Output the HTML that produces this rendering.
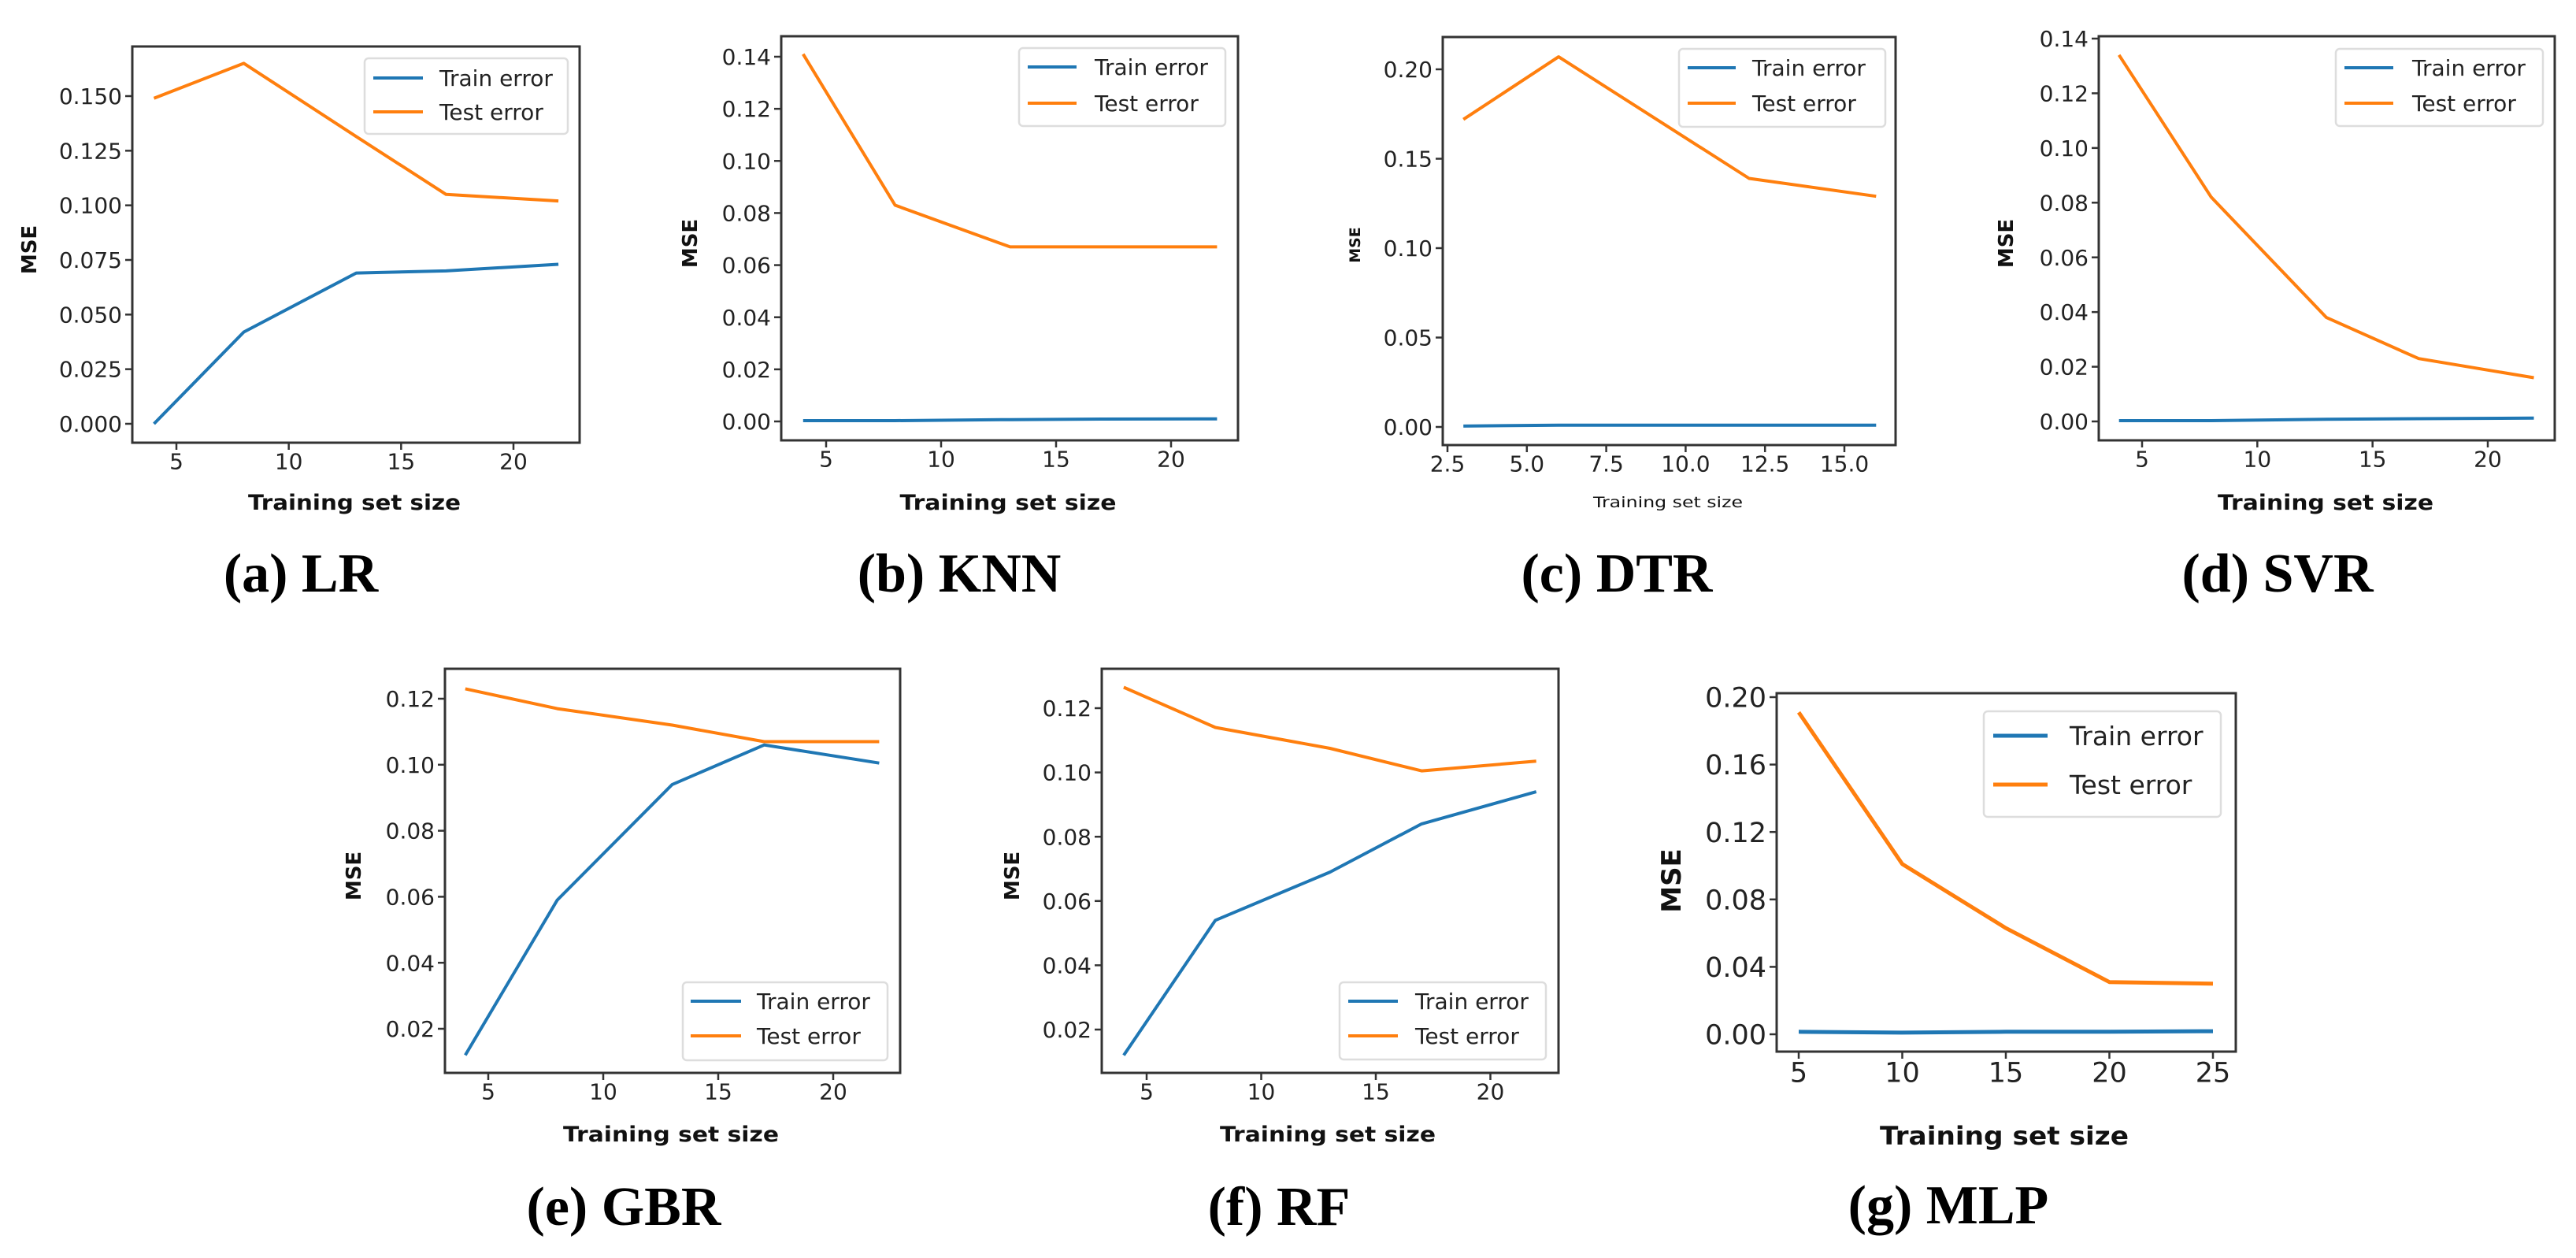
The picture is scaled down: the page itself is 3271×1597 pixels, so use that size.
<!DOCTYPE html>
<html><head><meta charset="utf-8"><style>
html,body{margin:0;padding:0;background:#fff;}
svg{display:block;}
</style></head><body>
<svg id="fig" width="3271" height="1597" viewBox="0 0 3271 1597" xmlns="http://www.w3.org/2000/svg"></svg>
<script>
// ---- data ----
const lrX = [4, 8, 13, 17, 22];
const lrTrain = [0.0, 0.042, 0.069, 0.070, 0.073];
const lrTest = [0.149, 0.165, 0.1315, 0.105, 0.102];
const lrYTicks = [0, 0.025, 0.05, 0.075, 0.1, 0.125, 0.15];
const lrYLabels = ["0.000","0.025","0.050","0.075","0.100","0.125","0.150"];
const lrXTicks = [5, 10, 15, 20];

const knnX = [4, 8, 13, 17, 22];
const knnTrain = [0.0003, 0.0003, 0.0007, 0.0009, 0.001];
const knnTest = [0.141, 0.083, 0.067, 0.067, 0.067];
const knnYTicks = [0, 0.02, 0.04, 0.06, 0.08, 0.10, 0.12, 0.14];
const knnYLabels = ["0.00","0.02","0.04","0.06","0.08","0.10","0.12","0.14"];
const knnXTicks = [5, 10, 15, 20];

const dtrX = [3, 6, 12, 16];
const dtrTrain = [0.0005, 0.001, 0.001, 0.001];
const dtrTest = [0.172, 0.207, 0.139, 0.129];
const dtrYTicks = [0, 0.05, 0.10, 0.15, 0.20];
const dtrYLabels = ["0.00","0.05","0.10","0.15","0.20"];
const dtrXTicks = [2.5, 5, 7.5, 10, 12.5, 15];
const dtrXLabels = ["2.5","5.0","7.5","10.0","12.5","15.0"];

const svrX = [4, 8, 13, 17, 22];
const svrTrain = [0.0003, 0.0003, 0.0008, 0.001, 0.0012];
const svrTest = [0.134, 0.082, 0.038, 0.023, 0.016];
const svrYTicks = [0, 0.02, 0.04, 0.06, 0.08, 0.10, 0.12, 0.14];
const svrYLabels = ["0.00","0.02","0.04","0.06","0.08","0.10","0.12","0.14"];
const svrXTicks = [5, 10, 15, 20];

const gbrX = [4, 8, 13, 17, 22];
const gbrTrain = [0.012, 0.059, 0.094, 0.106, 0.1005];
const gbrTest = [0.123, 0.117, 0.112, 0.107, 0.107];
const gbrYTicks = [0.02, 0.04, 0.06, 0.08, 0.10, 0.12];
const gbrYLabels = ["0.02","0.04","0.06","0.08","0.10","0.12"];
const gbrXTicks = [5, 10, 15, 20];

const rfX = [4, 8, 13, 17, 22];
const rfTrain = [0.012, 0.054, 0.069, 0.084, 0.094];
const rfTest = [0.1265, 0.114, 0.1075, 0.1005, 0.1035];
const rfYTicks = [0.02, 0.04, 0.06, 0.08, 0.10, 0.12];
const rfYLabels = ["0.02","0.04","0.06","0.08","0.10","0.12"];
const rfXTicks = [5, 10, 15, 20];

const mlpX = [5, 10, 15, 20, 25];
const mlpTrain = [0.0015, 0.001, 0.0015, 0.0015, 0.0018];
const mlpTest = [0.191, 0.101, 0.063, 0.031, 0.030];
const mlpYTicks = [0, 0.04, 0.08, 0.12, 0.16, 0.20];
const mlpYLabels = ["0.00","0.04","0.08","0.12","0.16","0.20"];
const mlpXTicks = [5, 10, 15, 20, 25];

const seriesNames = ["Train error", "Test error"];
const captions = ["(a) LR","(b) KNN","(c) DTR","(d) SVR","(e) GBR","(f) RF","(g) MLP"];

// ---- layout ----
const NS = "http://www.w3.org/2000/svg";
const svg = document.getElementById("fig");
function mk(tag, attrs, parent){
  const e = document.createElementNS(NS, tag);
  for (const k in attrs) e.setAttribute(k, attrs[k]);
  (parent || svg).appendChild(e);
  return e;
}
const BLUE = "#1f77b4", ORANGE = "#ff7f0e";
const FONT = "'DejaVu Sans', 'Liberation Sans', sans-serif";

function panel(id, cfg, xs, train, test, yTicks, yLabels, xTicks, xLabels){
  const g = mk("g", {});
  
  
  const L=cfg.box[0], T=cfg.box[1], R=cfg.box[2], B=cfg.box[3];
  const sx = v => cfg.xa[1] + (v - cfg.xa[0]) * (cfg.xb[1] - cfg.xa[1]) / (cfg.xb[0] - cfg.xa[0]);
  const sy = v => cfg.ya[1] + (v - cfg.ya[0]) * (cfg.yb[1] - cfg.ya[1]) / (cfg.yb[0] - cfg.ya[0]);
  // ticks
  yTicks.forEach((t,i)=>{
    const y = sy(t);
    const tk = mk("line",{x1:L-9,x2:L,y1:y,y2:y,stroke:"#333","stroke-width":2.5},g);
    
    
    const tx = mk("text",{x:L-13,y:y+cfg.tf*0.36,"text-anchor":"end","font-family":FONT,"font-size":cfg.tf,fill:"#222"},g);
    tx.textContent = yLabels[i];
    
    
  });
  xTicks.forEach((t,i)=>{
    const x = sx(t);
    const tk = mk("line",{x1:x,x2:x,y1:B,y2:B+9,stroke:"#333","stroke-width":2.5},g);
    
    
    const tx = mk("text",{x:x,y:B+12+cfg.tf*0.76,"text-anchor":"middle","font-family":FONT,"font-size":cfg.tf,fill:"#222"},g);
    tx.textContent = xLabels ? xLabels[i] : String(t);
    
    
  });
  // lines
  [[train,BLUE,'train'],[test,ORANGE,'test']].forEach(([vals,col,nm])=>{
    const pts = xs.map((x,i)=> sx(x).toFixed(1)+","+sy(vals[i]).toFixed(1)).join(" ");
    const pl = mk("polyline",{points:pts,fill:"none",stroke:col,"stroke-width":cfg.lw,"stroke-linejoin":"round"},g);
    
    
  });
  // frame
  const fr = mk("rect",{x:L,y:T,width:R-L,height:B-T,fill:"none",stroke:"#333","stroke-width":3},g);
  
  
  // legend
  const lg = cfg.leg;
  const lgG = mk("g",{},g);
  
  
  mk("rect",{x:lg.x,y:lg.y,width:lg.w,height:lg.h,rx:5,fill:"#fff",stroke:"#ddd","stroke-width":2.5},lgG);
  [[BLUE,seriesNames[0],lg.r1],[ORANGE,seriesNames[1],lg.r2]].forEach(([col,name,ry])=>{
    const ln = mk("line",{x1:lg.l1,x2:lg.l2,y1:ry,y2:ry,stroke:col,"stroke-width":cfg.lw},lgG);
    
    
    const t = mk("text",{x:lg.tx,y:ry+lg.fs*0.36,"font-family":FONT,"font-size":lg.fs,fill:"#222"},lgG);
    t.textContent = name;
    
    
  });
  // axis titles
  const xl = mk("text",{x:cfg.xl[0],y:cfg.xl[1],"text-anchor":"middle","font-family":FONT,"font-size":cfg.xl[2],"font-weight":cfg.xl[3]?"bold":"normal",fill:"#111",textLength:cfg.xl[4],lengthAdjust:"spacingAndGlyphs"},g);
  xl.textContent = "Training set size";
  
  
  const yl = mk("text",{x:0,y:0,"text-anchor":"middle","font-family":FONT,"font-size":cfg.yl[2],"font-weight":"bold",fill:"#111",transform:`translate(${cfg.yl[0]},${cfg.yl[1]}) rotate(-90)`},g);
  yl.textContent = "MSE";
  
  
  // caption
  const cp = mk("text",{x:cfg.cap[0],y:cfg.cap[1],"text-anchor":"middle","font-family":"'Liberation Serif', serif","font-size":70,"font-weight":"bold",fill:"#000"},g);
  cp.textContent = cfg.capText;
  
  
}

panel("lr",{box:[168,59,736,562],xa:[5,224],xb:[20,652],ya:[0,538],yb:[0.15,122],tf:28,lw:4,
  leg:{x:463,y:74,w:258,h:96,l1:474,l2:537,tx:558,r1:99,r2:142,fs:28},
  xl:[450,647,27,true,270],yl:[46,317,26],cap:[382,751],capText:captions[0]},
  lrX,lrTrain,lrTest,lrYTicks,lrYLabels,lrXTicks);
panel("knn",{box:[992,46,1572,559],xa:[5,1049],xb:[20,1487],ya:[0,535],yb:[0.14,72],tf:28,lw:4,
  leg:{x:1294,y:61,w:262,h:99,l1:1305,l2:1367,tx:1390,r1:85,r2:131,fs:28},
  xl:[1280,647,27,true,275],yl:[885,309,26],cap:[1218,751],capText:captions[1]},
  knnX,knnTrain,knnTest,knnYTicks,knnYLabels,knnXTicks);
panel("dtr",{box:[1832,47,2407,565],xa:[2.5,1838],xb:[15,2342],ya:[0,542],yb:[0.2,88],tf:28,lw:4,
  leg:{x:2132,y:62,w:262,h:99,l1:2143,l2:2204,tx:2225,r1:86,r2:131,fs:28},
  xl:[2118,644,19,false,190],yl:[1727,311,19],cap:[2053,751],capText:captions[2]},
  dtrX,dtrTrain,dtrTest,dtrYTicks,dtrYLabels,dtrXTicks,dtrXLabels);
panel("svr",{box:[2665,46,3244,559],xa:[5,2720],xb:[20,3159],ya:[0,535],yb:[0.14,49],tf:28,lw:4,
  leg:{x:2966,y:62,w:263,h:98,l1:2977,l2:3039,tx:3063,r1:86,r2:131,fs:28},
  xl:[2953,647,27,true,274],yl:[2556,309,26],cap:[2892,751],capText:captions[3]},
  svrX,svrTrain,svrTest,svrYTicks,svrYLabels,svrXTicks);
panel("gbr",{box:[565,849,1143,1362],xa:[5,620],xb:[20,1058],ya:[0.12,887],yb:[0.02,1306],tf:28,lw:4,
  leg:{x:867,y:1247,w:260,h:99,l1:877,l2:941,tx:961,r1:1271,r2:1315,fs:28},
  xl:[852,1449,27,true,274],yl:[458,1112,26],cap:[792,1555],capText:captions[4]},
  gbrX,gbrTrain,gbrTest,gbrYTicks,gbrYLabels,gbrXTicks);
panel("rf",{box:[1399,849,1979,1362],xa:[5,1456],xb:[15,1747],ya:[0.12,899],yb:[0.02,1307],tf:28,lw:4,
  leg:{x:1701,y:1247,w:262,h:98,l1:1712,l2:1775,tx:1797,r1:1271,r2:1315,fs:28},
  xl:[1686,1449,27,true,274],yl:[1294,1112,26],cap:[1624,1555],capText:captions[5]},
  rfX,rfTrain,rfTest,rfYTicks,rfYLabels,rfXTicks);
panel("mlp",{box:[2256,880,2839,1335],xa:[5,2284],xb:[25,2810],ya:[0,1313],yb:[0.2,885],tf:35,lw:5,
  leg:{x:2519,y:903,w:301,h:134,l1:2531,l2:2600,tx:2628,r1:934,r2:996,fs:33},
  xl:[2545,1453,32,true,316],yl:[2134,1118,34],cap:[2474,1553],capText:captions[6]},
  mlpX,mlpTrain,mlpTest,mlpYTicks,mlpYLabels,mlpXTicks);
</script>
</body></html>
